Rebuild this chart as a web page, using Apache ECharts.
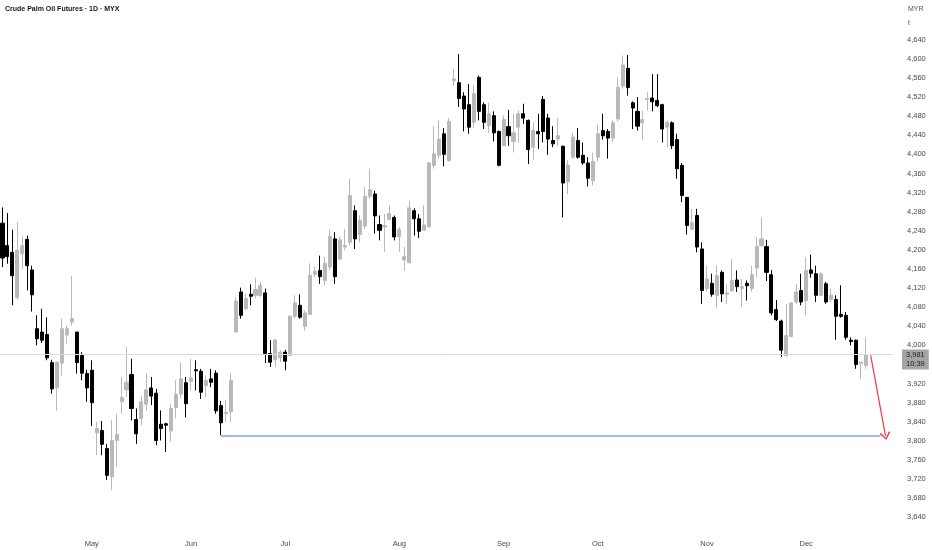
<!DOCTYPE html>
<html>
<head>
<meta charset="utf-8">
<script src="https://cdn.jsdelivr.net/npm/echarts@6/dist/echarts.min.js"></script>
<style>
html,body{margin:0;padding:0;background:#fff;}
#c{width:932px;height:550px;}
</style>
</head>
<body>
<div id="c"></div>
<script>
// Daily OHLC values (MYR per tonne)
const opens = [4256,4209,4195,4100,4192,4222,4158,4035,4028,4023,3964,3911,3963,4022,4049,4028,3979,3941,3948,3817,
3822,3784,3725,3801,3882,3907,3939,3845,3847,3877,3911,3900,3835,3836,3821,3870,3898,3922,3925,3949,
3946,3916,3930,3942,3874,3857,3861,4028,4112,4077,4107,4105,4105,4110,3983,3970,3974,3986,3979,4061,
4084,4040,4065,4149,4157,4136,4164,4223,4181,4206,4216,4282,4232,4250,4312,4317,4253,4248,4264,4268,
4228,4179,4173,4282,4265,4241,4248,4377,4398,4443,4387,4554,4550,4522,4504,4467,4561,4504,4460,4481,
4448,4418,4458,4427,4457,4485,4471,4415,4448,4515,4476,4429,4432,4417,4343,4394,4429,4398,4382,4345,
4394,4450,4448,4434,4474,4543,4580,4508,4490,4466,4515,4518,4513,4504,4457,4466,4431,4377,4310,4243,
4272,4202,4119,4130,4105,4153,4107,4115,4137,4119,4130,4119,4162,4209,4207,4148,4075,4051,3979,4019,
4091,4115,4094,4158,4150,4105,4129,4096,4096,4065,4063,4011,4011,3962,3958];
const closes = [4183,4186,4146,4199,4209,4167,4106,4014,4011,3974,3909,3965,4035,4035,4056,3964,3942,3911,3880,3826,
3793,3728,3801,3814,3891,3923,3868,3815,3882,3907,3894,3801,3826,3833,3868,3898,3930,3878,3932,3947,
3902,3927,3923,3863,3838,3860,3927,4093,4063,4098,4103,4117,4126,3983,3965,4011,3986,3967,4061,4089,
4059,4068,4147,4155,4144,4172,4228,4144,4221,4209,4314,4223,4262,4312,4326,4271,4241,4251,4276,4227,
4243,4186,4288,4265,4239,4252,4382,4401,4432,4400,4469,4558,4517,4495,4457,4527,4490,4467,4485,4445,
4377,4473,4439,4445,4485,4476,4410,4450,4443,4448,4432,4422,4439,4340,4377,4436,4394,4382,4350,4385,
4443,4439,4434,4466,4540,4587,4540,4497,4459,4473,4517,4510,4502,4453,4467,4418,4370,4314,4251,4257,
4206,4115,4139,4107,4146,4108,4110,4136,4123,4123,4125,4148,4207,4223,4153,4068,4054,3990,4021,4089,
4112,4091,4157,4151,4105,4150,4091,4105,4061,4061,4017,4008,3960,3965,3981];
const lows = [4164,4171,4084,4096,4160,4115,4071,4000,4005,3969,3899,3863,3937,4004,4042,3941,3927,3882,3831,3770,
3770,3718,3697,3746,3857,3892,3843,3794,3833,3864,3875,3791,3801,3777,3798,3847,3889,3849,3906,3906,
3888,3892,3913,3857,3812,3840,3840,4028,4056,4073,4084,4098,4101,3963,3955,3955,3965,3948,3979,4056,
4056,4031,4065,4143,4129,4126,4158,4129,4178,4199,4209,4202,4216,4244,4307,4234,4220,4195,4262,4220,
4195,4157,4173,4230,4225,4241,4248,4370,4391,4375,4385,4544,4499,4448,4443,4455,4471,4453,4445,4427,
4375,4418,4418,4404,4424,4464,4380,4389,4411,4425,4399,4415,4418,4268,4317,4391,4391,4378,4333,4335,
4385,4431,4391,4425,4469,4538,4523,4453,4450,4431,4492,4490,4499,4425,4415,4411,4349,4300,4232,4241,
4195,4087,4112,4102,4079,4091,4087,4112,4112,4080,4094,4112,4143,4206,4135,4063,4051,3976,3976,4017,
4086,4084,4063,4142,4091,4103,4087,4091,4012,4058,4012,4000,3951,3930,3951];
const highs = [4289,4277,4242,4258,4230,4230,4167,4063,4077,4059,3970,3966,4056,4042,4146,4028,3986,3949,3969,3840,
3842,3794,3843,3857,3934,3997,3972,3868,3895,3941,3934,3909,3864,3838,3878,3927,3965,3934,3972,3969,
3951,3937,3951,3948,3884,3885,3942,4101,4121,4108,4128,4142,4133,4119,4011,4014,3990,3991,4063,4105,
4107,4073,4172,4165,4188,4186,4242,4237,4228,4244,4349,4293,4272,4331,4370,4324,4272,4275,4294,4272,
4248,4206,4303,4287,4275,4294,4384,4460,4471,4455,4476,4579,4610,4530,4547,4545,4565,4509,4508,4490,
4450,4481,4493,4485,4492,4506,4473,4467,4485,4522,4485,4459,4476,4418,4387,4445,4455,4425,4394,4404,
4462,4485,4453,4471,4561,4607,4608,4511,4520,4492,4530,4568,4568,4506,4471,4469,4443,4382,4310,4286,
4286,4216,4167,4150,4167,4157,4129,4181,4157,4139,4136,4167,4227,4268,4221,4158,4095,4054,4087,4091,
4129,4150,4185,4190,4167,4153,4133,4119,4105,4126,4070,4017,4012,3965,4017];

// x-axis month labels and the candle index where each month starts
const monthNames = ['May','Jun','Jul','Aug','Sep','Oct','Nov','Dec'];
const monthStart = [18, 38, 57, 80, 101, 120, 142, 162];
const emptySlots = 5;            // blank days to the right of the last candle

const lastPrice = 3981;
const lastPriceTime = '10:39';
const supportLevel = 3810;       // blue horizontal line
const supportFrom = 44;          // candle index where it starts
const supportTo = 177;
const arrowFrom = [175, 3979];
const arrowTo = [178, 3810];

const yTicksShown = [3640,3680,3720,3760,3800,3840,3880,3920,4000,4040,4080,4120,4160,4200,4240,4280,4320,4360,4400,4440,4480,4520,4560,4600,4640];

const nTotal = opens.length + emptySlots;
const categories = [];
for (let i = 0; i < nTotal; i++) categories.push(String(i));
const ohlc = opens.map((o, i) => [o, closes[i], lows[i], highs[i]]);

const fmt = v => v.toLocaleString('en-US');
const FONT = 'Liberation Sans';
const chart = echarts.init(document.getElementById('c'), null, {renderer: 'canvas'});
chart.setOption({
  animation: false,
  backgroundColor: '#ffffff',
  textStyle: {fontFamily: FONT},
  title: {
    text: 'Crude Palm Oil Futures · 1D · MYX',
    left: 5, top: 6, padding: 0,
    textStyle: {fontSize: 7, fontWeight: 'bold', color: '#131722', fontFamily: FONT}
  },
  graphic: [
    {type: 'text', left: 908, top: 6, style: {text: 'MYR', fontSize: 7, fill: '#555', fontFamily: FONT}},
    {type: 'text', left: 908, top: 20, style: {text: 't', fontSize: 7, fill: '#555', fontFamily: FONT}}
  ],
  grid: {left: -0.5, right: 39, top: 1.5, height: 535},
  xAxis: {
    type: 'category',
    data: categories,
    boundaryGap: true,
    axisLine: {show: false},
    axisTick: {show: false},
    splitLine: {show: false},
    axisLabel: {
      interval: (idx) => monthStart.indexOf(idx) >= 0,
      formatter: (val, idx) => {
        const k = monthStart.indexOf(Number(val));
        return k >= 0 ? monthNames[k] : '';
      },
      fontSize: 7.5, color: '#4a4a4a', margin: 3, fontFamily: FONT
    }
  },
  yAxis: {
    type: 'value',
    position: 'right',
    min: 3600, max: 4720, interval: 40,
    axisLine: {show: false},
    axisTick: {show: false},
    splitLine: {show: false},
    axisLabel: {
      formatter: v => yTicksShown.indexOf(v) >= 0 ? fmt(v) : '',
      fontSize: 7.5, color: '#4a4a4a', margin: 14, fontFamily: FONT
    }
  },
  series: [{
    type: 'candlestick',
    data: ohlc,
    barWidth: '72%',
    itemStyle: {
      color: '#b9b9b9', color0: '#000000',
      borderColor: '#b9b9b9', borderColor0: '#000000',
      borderWidth: 1
    },
    markLine: {
      silent: true,
      symbol: ['none', 'none'],
      animation: false,
      data: [
        [
          {coord: [supportFrom, supportLevel], lineStyle: {color: '#8c9fdc', width: 1.5, type: 'solid'}, label: {show: false}},
          {coord: [supportTo, supportLevel]}
        ],
        {
          yAxis: lastPrice,
          lineStyle: {color: '#dcdcdc', width: 1, type: 'solid'},
          label: {
            show: true, position: 'end', distance: 9, offset: [0, 5],
            formatter: fmt(lastPrice) + '\n' + lastPriceTime,
            backgroundColor: '#a5a5a5', color: '#1c1c1c',
            fontSize: 7.5, lineHeight: 9, padding: [1, 4, 1, 4], fontFamily: FONT
          }
        },
        [
          {coord: arrowFrom, symbol: 'none', lineStyle: {color: '#f23645', width: 1.2, type: 'solid'}, label: {show: false}},
          {coord: arrowTo, symbol: 'path://M5,0 L10,9 L8.6,9.6 L5,2.6 L1.4,9.6 L0,9 Z', symbolSize: [11, 8]}
        ]
      ]
    }
  }]
});
</script>
</body>
</html>
